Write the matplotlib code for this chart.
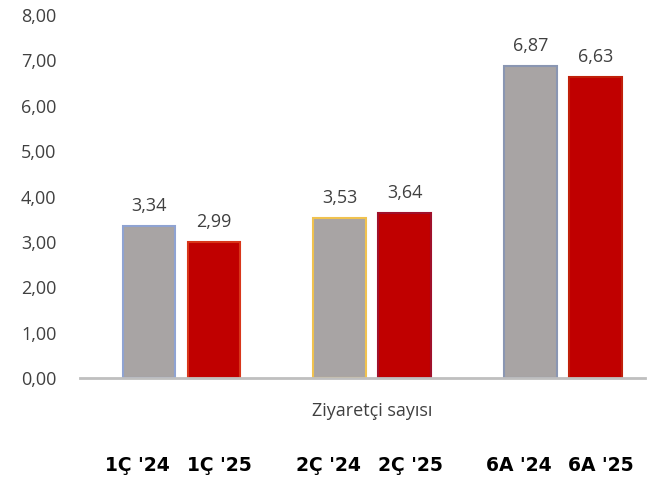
import numpy as np
import matplotlib.pyplot as plt

plt.rcParams['font.family'] = ['Open Sans', 'DejaVu Sans']

# --- Data ---
groups = ['1Ç', '2Ç', '6A']
values_24 = [3.34, 3.53, 6.87]
values_25 = [2.99, 3.64, 6.63]
labels_24 = ["1Ç '24", "2Ç '24", "6A '24"]
labels_25 = ["1Ç '25", "2Ç '25", "6A '25"]
edges_24 = ['#8fa3d2', '#f0c24f', '#8a96b2']
edges_25 = ['#d8361a', '#a0102a', '#c0200a']

x = np.arange(len(groups))
off = 0.17
w = 0.275

fig = plt.figure(figsize=(6.48, 4.8), dpi=100)
ax = fig.add_axes([80 / 648, 1 - 378 / 480, 565 / 648, (378 - 15) / 480])

b24 = ax.bar(x - off, values_24, w, color='#a8a4a4', edgecolor=edges_24, linewidth=1.5, zorder=2)
b25 = ax.bar(x + off, values_25, w, color='#c00000', edgecolor=edges_25, linewidth=1.5, zorder=2)

def fmt(v):
    return f'{v:.2f}'.replace('.', ',')

for bars, vals in [(b24, values_24), (b25, values_25)]:
    for b, v in zip(bars, vals):
        ax.annotate(fmt(v), (b.get_x() + b.get_width() / 2, v), xytext=(0, 8),
                    textcoords='offset points', ha='center', va='bottom',
                    fontsize=13, color='#404040')

ax.set_ylim(0, 8)
ax.set_xlim(-0.531, 2.43)
ax.set_yticks(np.arange(0, 9, 1))
ax.set_yticklabels([fmt(v) for v in np.arange(0, 9, 1)], fontsize=13, color='#404040')
ax.tick_params(axis='y', length=0, pad=17)
ax.set_xticks([])

for s in ['top', 'right', 'left']:
    ax.spines[s].set_visible(False)
ax.spines['bottom'].set_color('#bfbfbf')
ax.spines['bottom'].set_linewidth(2)

ax.text(1.0, -0.09, 'Ziyaretçi sayısı', transform=ax.get_xaxis_transform(),
        ha='center', va='center', fontsize=13, color='#404040')

# category row below the chart (sits a bit left of the bars, like the original)
for i in range(len(groups)):
    for xi, lab in [(x[i] - off - 0.06, labels_24[i]), (x[i] + off + 0.03, labels_25[i])]:
        ax.text(xi, -0.24, lab, transform=ax.get_xaxis_transform(),
                ha='center', va='center', fontsize=13.5, fontweight='bold',
                color='black', family='DejaVu Sans')

plt.savefig('out.png', dpi=100)
